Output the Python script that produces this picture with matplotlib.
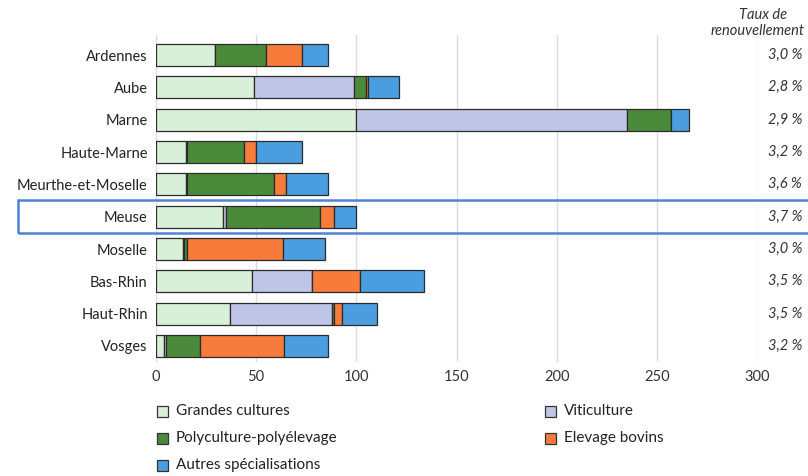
import matplotlib
matplotlib.use("Agg")
import matplotlib.pyplot as plt
import matplotlib.patches as mpatches
import numpy as np

plt.rcParams['font.family'] = ['Lato', 'DejaVu Sans']

departements = ["Ardennes", "Aube", "Marne", "Haute-Marne", "Meurthe-et-Moselle",
                "Meuse", "Moselle", "Bas-Rhin", "Haut-Rhin", "Vosges"]
grandes_cultures = [29.5, 49, 100, 14.8, 14.8, 33.6, 13.7, 47.8, 36.8, 3.8]
viticulture      = [0, 50, 135, 0.6, 0.8, 1.2, 0.4, 30, 51, 1.0]
polyculture      = [25.5, 6, 22, 28.5, 43.4, 47, 1.5, 0, 1.3, 17]
elevage_bovins   = [18, 0.8, 0, 6, 6, 7, 48, 24, 3.6, 42]
autres           = [13, 15.3, 9, 23, 20.8, 11.2, 21, 32, 17.4, 22]
taux = ["3,0 %", "2,8 %", "2,9 %", "3,2 %", "3,6 %", "3,7 %", "3,0 %", "3,5 %", "3,5 %", "3,2 %"]
xticks = [0, 50, 100, 150, 200, 250, 300]

series = [
    ("Grandes cultures", grandes_cultures, "#d8efd8"),
    ("Viticulture", viticulture, "#bfc5e6"),
    ("Polyculture-polyélevage", polyculture, "#4a8a3a"),
    ("Elevage bovins", elevage_bovins, "#f77b3b"),
    ("Autres spécialisations", autres, "#4a9ddf"),
]

W, H = 808, 476
fig = plt.figure(figsize=(W / 100, H / 100), dpi=100)

def px(x0, y0, x1, y1):
    return [x0 / W, 1 - y1 / H, (x1 - x0) / W, (y1 - y0) / H]

ax = fig.add_axes(px(156, 35, 757, 362))
ypos = np.arange(len(departements))
left = np.zeros(len(departements))
for name, vals, col in series:
    v = np.array(vals, dtype=float)
    ax.barh(ypos, v, left=left, height=0.68, color=col, edgecolor="#2b2b2b",
            linewidth=0.9, zorder=3)
    left += v

ax.set_xlim(0, 300)
ax.set_ylim(9.495, -0.619)
ax.set_xticks(xticks)
ax.set_xticklabels([str(t) for t in xticks], fontsize=10.5, color="#333333")
ax.set_yticks(ypos)
ax.set_yticklabels(departements, fontsize=10.5, color="#222222")
ax.tick_params(axis="both", length=0, pad=6)
ax.tick_params(axis="x", pad=6)
ax.grid(axis="x", color="#dddddd", linewidth=1.0, zorder=0)
for s in ax.spines.values():
    s.set_visible(False)

for i, t in enumerate(taux):
    ax.text(322.5, i, t, ha="right", va="center", fontsize=10.5, style="italic",
            color="#333333", clip_on=False)

fig.text(763 / W, 1 - 15 / H, "Taux de", ha="center", va="center", fontsize=10.5,
         style="italic", color="#333333")
fig.text(805 / W, 1 - 31 / H, "renouvellement", ha="right", va="center", fontsize=10.5,
         style="italic", color="#333333")

# highlight Meuse
fig.patches.append(mpatches.Rectangle((18 / W, 1 - 233 / H), 800 / W, 33 / H,
                                      transform=fig.transFigure, fill=False,
                                      edgecolor="#4f82d6", linewidth=1.8))

# legend
leg_items = [
    (157, 411, 0), (545, 411, 1),
    (157, 438, 2), (545, 438, 3),
    (157, 465, 4),
]
sq = 11
for x, y, k in leg_items:
    name, _, col = series[k]
    fig.patches.append(mpatches.Rectangle((x / W, 1 - (y + sq / 2) / H), sq / W, sq / H,
                                          transform=fig.transFigure, facecolor=col,
                                          edgecolor="#333333", linewidth=0.9))
    fig.text((x + 19) / W, 1 - y / H, name, ha="left", va="center", fontsize=11,
             color="#222222")

fig.savefig("out.png", dpi=100)
